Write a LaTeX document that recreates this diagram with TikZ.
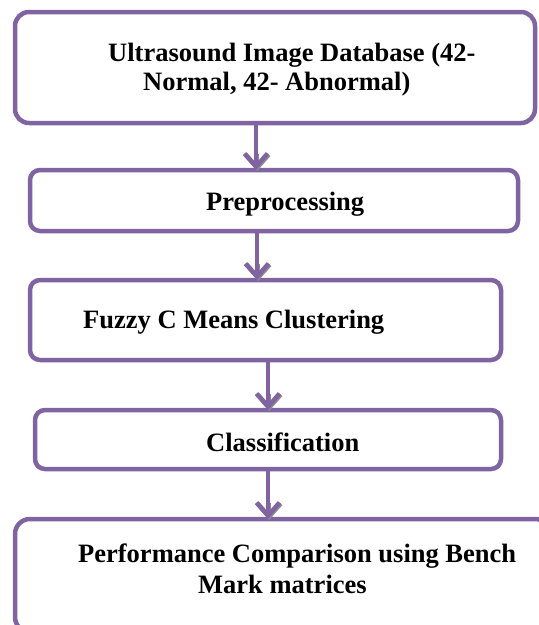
\documentclass[tikz,border=0pt]{standalone}
\usepackage{fontspec}
\setmainfont{Liberation Serif}
\usetikzlibrary{arrows.meta,calc}
\definecolor{flowpurple}{HTML}{8064A2}
\definecolor{tipshade}{HTML}{8C8C8C}
\tikzset{
  stage/.style={draw=flowpurple, line width=4.5pt, rounded corners=#1,
    fill=white, inner sep=0pt, outer sep=0pt},
  stage/.default=10pt,
  caption/.style={anchor=base west, inner sep=0pt,
    font=\fontsize{26.5}{30}\selectfont\bfseries},
  flow/.style={draw=flowpurple, line width=4.5pt,
    -{Straight Barb[length=13pt,width=23pt]}},
  flowshade/.style={draw=tipshade, line width=4.5pt,
    -{Straight Barb[length=13pt,width=23pt]}}
}
\begin{document}
\begin{tikzpicture}[x=1pt,y=-1pt]
  \useasboundingbox (0,0) rectangle (539,625);
  \clip (0,0) rectangle (539,625);

  % process stages
  \node[stage=14pt, minimum width=520pt, minimum height=111pt] (db)   at (275,67.5)  {};
  \node[stage,      minimum width=488pt, minimum height=61pt]  (pre)  at (274,200.5) {};
  \node[stage,      minimum width=471pt, minimum height=80pt]  (fcm)  at (265.5,320) {};
  \node[stage,      minimum width=466pt, minimum height=59pt]  (cls)  at (268,439.5) {};
  \node[stage=15pt, minimum width=535pt, minimum height=113pt] (perf) at (282.5,575.5) {};

  % stage texts
  \node[caption] (dbA)   at (108,61)  {Ultrasound Image Database (42-};
  \node[caption] (dbB)   at (143,90)  {Normal, 42- Abnormal)};
  \node[caption] (preT)  at (206,210) {Preprocessing};
  \node[caption] (fcmT)  at (83,328)  {Fuzzy C Means Clustering};
  \node[caption] (clsT)  at (206,451) {Classification};
  \node[caption] (perfA) at (78,562)  {Performance Comparison using Bench};
  \node[caption] (perfB) at (198,593) {Mark matrices};

  % arrow columns
  \coordinate (ax1) at (256,0);
  \coordinate (ax2) at (257,0);
  \coordinate (ax3) at (268,0);
  \coordinate (ax4) at (268,0);

  % shaded arrow heads
  \draw[flowshade] ($(pre.north -| ax1)+(1.2,-16)$) -- ($(pre.north -| ax1)+(1.2,1)$);
  \draw[flowshade] ($(fcm.north -| ax2)+(1.2,-16)$) -- ($(fcm.north -| ax2)+(1.2,1)$);
  \draw[flowshade] ($(cls.north -| ax3)+(1.2,-16)$) -- ($(cls.north -| ax3)+(1.2,1)$);
  \draw[flowshade] ($(perf.north -| ax4)+(1.2,-16)$) -- ($(perf.north -| ax4)+(1.2,1)$);

  % connectors
  \draw[flow] (db.south -| ax1)  -- (pre.north -| ax1);
  \draw[flow] (pre.south -| ax2) -- (fcm.north -| ax2);
  \draw[flow] (fcm.south -| ax3) -- (cls.north -| ax3);
  \draw[flow] (cls.south -| ax4) -- (perf.north -| ax4);
\end{tikzpicture}
\end{document}
